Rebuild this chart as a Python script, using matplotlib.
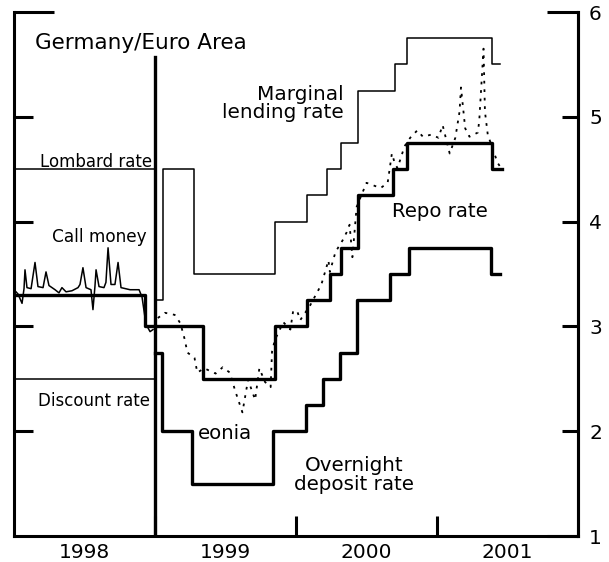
import matplotlib.pyplot as plt

plt.rcParams['font.family'] = ['DejaVu Sans']

# --- Germany 1998 (Bundesbank), dates as decimal years ---
bb_repo_dates = [1998.0, 1998.93, 1999.0]
bb_repo = [3.3, 3.0, 3.0]
lombard_rate = 4.5
discount_rate = 2.5

call_dates = [1998.000, 1998.028, 1998.057, 1998.071, 1998.078, 1998.092, 1998.121,
              1998.149, 1998.170, 1998.206, 1998.227, 1998.248, 1998.291, 1998.319,
              1998.340, 1998.369, 1998.411, 1998.454, 1998.468, 1998.489, 1998.511,
              1998.546, 1998.560, 1998.574, 1998.582, 1998.603, 1998.638, 1998.652,
              1998.667, 1998.688, 1998.716, 1998.738, 1998.759, 1998.823, 1998.887,
              1998.908, 1998.936, 1998.965, 1998.986]
call_money = [3.35, 3.31, 3.22, 3.36, 3.54, 3.37, 3.36,
              3.61, 3.38, 3.37, 3.52, 3.39, 3.35, 3.32,
              3.37, 3.33, 3.34, 3.37, 3.40, 3.56, 3.37,
              3.35, 3.16, 3.38, 3.54, 3.38, 3.37, 3.42,
              3.75, 3.40, 3.40, 3.61, 3.37, 3.35, 3.35,
              3.28, 3.02, 2.95, 2.97]

# --- Euro area (ECB) step rates: change dates and new levels ---
mlf_dates = [1999.0, 1999.06, 1999.28, 1999.85, 2000.08, 2000.22, 2000.32,
             2000.44, 2000.70, 2000.79, 2001.39, 2001.45]
mlf_rate = [3.25, 4.5, 3.5, 4.0, 4.25, 4.5, 4.75, 5.25, 5.5, 5.75, 5.5, 5.5]

repo_dates = [1999.0, 1999.34, 1999.85, 2000.08, 2000.24, 2000.32, 2000.44,
              2000.69, 2000.79, 2001.39, 2001.46]
repo_rate = [3.0, 2.5, 3.0, 3.25, 3.5, 3.75, 4.25, 4.5, 4.75, 4.5, 4.5]

dep_dates = [1999.0, 1999.05, 1999.26, 1999.84, 2000.07, 2000.19, 2000.31,
             2000.43, 2000.67, 2000.80, 2001.38, 2001.45]
dep_rate = [2.75, 2.0, 1.5, 2.0, 2.25, 2.5, 2.75, 3.25, 3.5, 3.75, 3.5, 3.5]

eonia_dates = [1999.02, 1999.07, 1999.14, 1999.18, 1999.21, 1999.23, 1999.28,
               1999.30, 1999.35, 1999.43, 1999.48, 1999.53, 1999.57, 1999.62,
               1999.66, 1999.71, 1999.74, 1999.78, 1999.82, 1999.83, 1999.85,
               1999.91, 1999.96, 1999.98, 2000.01, 2000.03, 2000.10, 2000.16,
               2000.18, 2000.23, 2000.24, 2000.28, 2000.33, 2000.36, 2000.38,
               2000.40, 2000.43, 2000.50, 2000.60, 2000.65, 2000.68, 2000.70,
               2000.72, 2000.77, 2000.81, 2000.86, 2000.90, 2000.96, 2001.01,
               2001.04, 2001.09, 2001.13, 2001.16, 2001.17, 2001.20, 2001.23,
               2001.29, 2001.30, 2001.33, 2001.34, 2001.36, 2001.43, 2001.45]
eonia = [3.08, 3.13, 3.11, 3.03, 2.88, 2.75, 2.70,
         2.56, 2.60, 2.55, 2.61, 2.56, 2.38, 2.18,
         2.49, 2.30, 2.60, 2.47, 2.42, 2.76, 2.87,
         3.04, 2.97, 3.15, 3.14, 3.06, 3.20, 3.35,
         3.40, 3.63, 3.52, 3.71, 3.82, 3.90, 3.97,
         3.66, 4.14, 4.37, 4.32, 4.37, 4.65, 4.56,
         4.51, 4.72, 4.80, 4.87, 4.81, 4.83, 4.80,
         4.92, 4.65, 4.80, 5.05, 5.28, 4.89, 4.81,
         4.85, 4.97, 5.65, 5.05, 4.83, 4.56, 4.52]

year_ticks = [1999, 2000, 2001]
year_labels = ['1998', '1999', '2000', '2001']
year_mid = [1998.5, 1999.5, 2000.5, 2001.5]

THICK = 2.4
THIN = 1.1

fig = plt.figure(figsize=(6.09, 5.62), dpi=100)
ax = fig.add_axes([14 / 609, 26 / 562, 564 / 609, 524 / 562])
ax.set_xlim(1998.0, 2002.0)
ax.set_ylim(1, 6)

# 1998 panel
ax.hlines([lombard_rate, discount_rate], 1998.0, 1999.0, color='black', lw=THIN)
ax.plot(call_dates, call_money, color='black', lw=THIN)
ax.step(bb_repo_dates, bb_repo, where='post', color='black', lw=THICK)

# euro area panel
ax.plot(eonia_dates, eonia, color='black', lw=1.3, linestyle=(0, (1.5, 3.2)))
ax.step(mlf_dates, mlf_rate, where='post', color='black', lw=THIN)
ax.step(repo_dates, repo_rate, where='post', color='black', lw=THICK)
ax.step(dep_dates, dep_rate, where='post', color='black', lw=THICK)

# divider at start of 1999
ax.axvline(1999.0, ymin=0, ymax=(5.57 - 1) / 5, color='black', lw=2.4)

# spines
for side in ['left', 'right', 'bottom']:
    ax.spines[side].set_linewidth(2.2)
ax.spines['top'].set_visible(False)

# x axis
ax.set_xticks(year_ticks)
ax.set_xticklabels([])
ax.set_xticks(year_mid, minor=True)
ax.set_xticklabels(year_labels, minor=True, fontsize=14.5)
ax.tick_params(axis='x', which='major', direction='in', length=14.5, width=2.2)
ax.tick_params(axis='x', which='minor', length=0, pad=5)

# left axis: inward ticks, no labels
ax.set_yticks([2, 3, 4, 5])
ax.set_yticks([6], minor=True)
ax.tick_params(axis='y', which='major', direction='in', length=13.7, width=2.2,
               labelleft=False)
ax.tick_params(axis='y', which='minor', direction='in', length=29, width=2.2,
               labelleft=False)

# right axis with labels
ax2 = ax.twinx()
ax2.set_ylim(1, 6)
for side in ['left', 'top', 'bottom']:
    ax2.spines[side].set_visible(False)
ax2.spines['right'].set_linewidth(2.2)
ax2.set_yticks([2, 3, 4, 5])
ax2.set_yticklabels(['2', '3', '4', '5'], fontsize=14.5)
ax2.set_yticks([1, 6], minor=True)
ax2.set_yticklabels(['1', '6'], minor=True, fontsize=14.5)
ax2.tick_params(axis='y', which='major', direction='in', length=11.5, width=2.2, pad=8)
ax2.tick_params(axis='y', which='minor', direction='in', length=22, width=2.2, pad=8)

# annotations (multi-line labels are anchored at the baseline of the last line)
ax.text(1998.15, 5.647, 'Germany/Euro Area', fontsize=15.5, ha='left', va='baseline')
ax.text(1998.979, 4.524, 'Lombard rate', fontsize=12, ha='right', va='baseline')
ax.text(1998.943, 3.808, 'Call money', fontsize=12.2, ha='right', va='baseline')
ax.text(1998.965, 2.243, 'Discount rate', fontsize=12, ha='right', va='baseline')
ax.text(2000.34, 4.989, 'Marginal\nlending rate', fontsize=14.4, ha='right',
        va='baseline', multialignment='right', linespacing=0.93)
ax.text(2000.68, 4.047, 'Repo rate', fontsize=14.2, ha='left', va='baseline')
ax.text(1999.305, 1.925, 'eonia', fontsize=14.2, ha='left', va='baseline')
ax.text(2000.41, 1.439, 'Overnight\ndeposit rate', fontsize=14.3, ha='center',
        va='baseline', multialignment='center', linespacing=0.98)

fig.savefig('out.png', dpi=100)
